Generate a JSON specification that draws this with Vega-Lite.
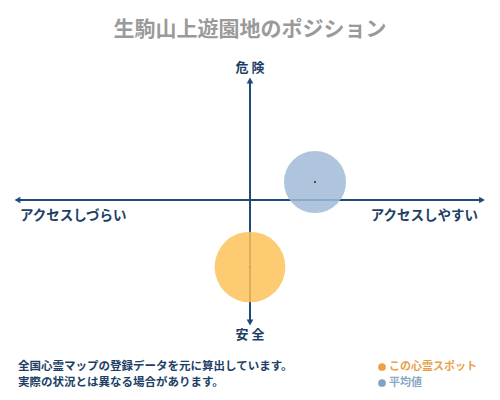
{
  "$schema": "https://vega.github.io/schema/vega-lite/v6.json",
  "width": 500,
  "height": 400,
  "autosize": {"type": "fit", "contains": "padding"},
  "padding": 0,
  "background": "white",
  "config": {"view": {"stroke": null}, "font": "Noto Sans CJK JP"},
  "datasets": {
    "axes": [
      {"x1": -9.2, "x2": 9.2, "y1": 0, "y2": 0},
      {"x1": 0, "x2": 0, "y1": 4.7, "y2": -4.8}
    ],
    "heads": [
      {"x": -9.3, "y": 0, "dir": "triangle-left"},
      {"x": 9.28, "y": 0, "dir": "triangle-right"},
      {"x": 0, "y": 4.78, "dir": "triangle-up"},
      {"x": 0, "y": -4.9, "dir": "triangle-down"}
    ],
    "spots": [
      {"name": "平均値", "x": 2.6, "y": 0.72, "size": 3850, "color": "#a1bbd8", "dot": "#333333"},
      {"name": "この心霊スポット", "x": 0, "y": -2.68, "size": 5000, "color": "#fcc259", "dot": "#f39c12"}
    ],
    "center_labels": [
      {"text": "危 険", "x": 0, "y": 5.3},
      {"text": "安 全", "x": 0, "y": -5.4}
    ],
    "left_labels": [
      {"text": "アクセスしづらい", "x": -9.2, "y": -0.64}
    ],
    "right_labels": [
      {"text": "アクセスしやすい", "x": 9.12, "y": -0.64}
    ],
    "notes": [
      {"text": "全国心霊マップの登録データを元に算出しています。", "x": -9.28, "y": -6.68},
      {"text": "実際の状況とは異なる場合があります。", "x": -9.28, "y": -7.32}
    ],
    "legend": [
      {"text": "この心霊スポット", "x": 5.28, "y": -6.68, "color": "#f0a040", "tcolor": "#e8a050"},
      {"text": "平均値", "x": 5.28, "y": -7.32, "color": "#7fa3c8", "tcolor": "#8aa8c8"}
    ]
  },
  "layer": [
    {
      "data": {"name": "axes"},
      "mark": {"type": "rule", "color": "#1d4a78", "strokeWidth": 2},
      "encoding": {
        "x": {"field": "x1", "type": "quantitative", "scale": {"domain": [-10, 10]}, "axis": null},
        "x2": {"field": "x2"},
        "y": {"field": "y1", "type": "quantitative", "scale": {"domain": [-8, 8]}, "axis": null},
        "y2": {"field": "y2"}
      }
    },
    {
      "data": {"name": "heads"},
      "mark": {"type": "point", "filled": true, "opacity": 1, "color": "#1d4a78", "size": 45},
      "encoding": {
        "x": {"field": "x", "type": "quantitative"},
        "y": {"field": "y", "type": "quantitative"},
        "shape": {"field": "dir", "type": "nominal", "scale": null}
      }
    },
    {
      "data": {"name": "spots"},
      "mark": {"type": "circle", "opacity": 0.85},
      "encoding": {
        "x": {"field": "x", "type": "quantitative"},
        "y": {"field": "y", "type": "quantitative"},
        "size": {"field": "size", "type": "quantitative", "scale": null},
        "color": {"field": "color", "type": "nominal", "scale": null}
      }
    },
    {
      "data": {"name": "spots"},
      "mark": {"type": "circle", "opacity": 1, "size": 5},
      "encoding": {
        "x": {"field": "x", "type": "quantitative"},
        "y": {"field": "y", "type": "quantitative"},
        "color": {"field": "dot", "type": "nominal", "scale": null}
      }
    },
    {
      "data": {"name": "center_labels"},
      "mark": {"type": "text", "fontSize": 13, "fontWeight": "bold", "color": "#1d3f66", "align": "center", "baseline": "middle"},
      "encoding": {
        "x": {"field": "x", "type": "quantitative"},
        "y": {"field": "y", "type": "quantitative"},
        "text": {"field": "text"}
      }
    },
    {
      "data": {"name": "left_labels"},
      "mark": {"type": "text", "fontSize": 13.5, "fontWeight": "bold", "color": "#1d3f66", "align": "left", "baseline": "middle"},
      "encoding": {
        "x": {"field": "x", "type": "quantitative"},
        "y": {"field": "y", "type": "quantitative"},
        "text": {"field": "text"}
      }
    },
    {
      "data": {"name": "right_labels"},
      "mark": {"type": "text", "fontSize": 13.5, "fontWeight": "bold", "color": "#1d3f66", "align": "right", "baseline": "middle"},
      "encoding": {
        "x": {"field": "x", "type": "quantitative"},
        "y": {"field": "y", "type": "quantitative"},
        "text": {"field": "text"}
      }
    },
    {
      "data": {"name": "notes"},
      "mark": {"type": "text", "fontSize": 11.5, "fontWeight": "bold", "color": "#1d3f66", "align": "left", "baseline": "middle"},
      "encoding": {
        "x": {"field": "x", "type": "quantitative"},
        "y": {"field": "y", "type": "quantitative"},
        "text": {"field": "text"}
      }
    },
    {
      "data": {"name": "legend"},
      "mark": {"type": "circle", "opacity": 1, "size": 60},
      "encoding": {
        "x": {"field": "x", "type": "quantitative"},
        "y": {"field": "y", "type": "quantitative"},
        "color": {"field": "color", "type": "nominal", "scale": null}
      }
    },
    {
      "data": {"name": "legend"},
      "mark": {"type": "text", "fontSize": 11, "fontWeight": "bold", "align": "left", "baseline": "middle", "dx": 7},
      "encoding": {
        "x": {"field": "x", "type": "quantitative"},
        "y": {"field": "y", "type": "quantitative"},
        "text": {"field": "text"},
        "color": {"field": "tcolor", "type": "nominal", "scale": null}
      }
    },
    {
      "data": {"values": [{"text": "生駒山上遊園地のポジション", "x": 0, "y": 6.8}]},
      "mark": {"type": "text", "fontSize": 21, "fontWeight": "bold", "color": "#9a9a9a", "align": "center", "baseline": "middle"},
      "encoding": {
        "x": {"field": "x", "type": "quantitative"},
        "y": {"field": "y", "type": "quantitative"},
        "text": {"field": "text"}
      }
    }
  ]
}
